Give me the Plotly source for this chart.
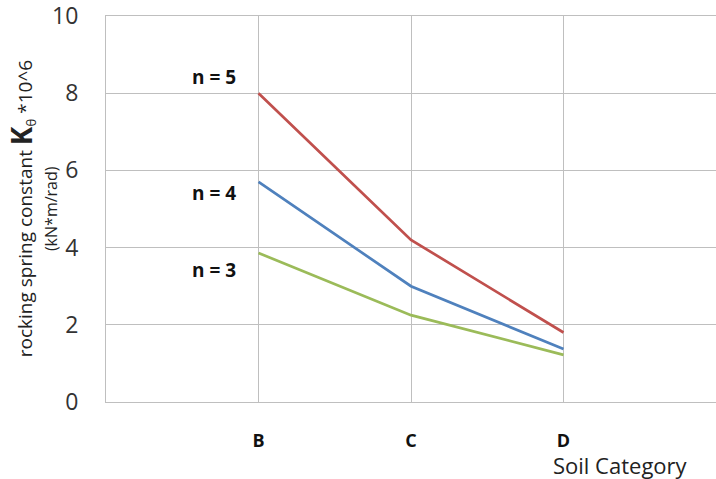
import plotly.graph_objects as go

categories = ["B", "C", "D"]
cat_pos = [1, 2, 3]
n5 = [8.0, 4.2, 1.8]
n4 = [5.7, 3.0, 1.37]
n3 = [3.86, 2.25, 1.22]
series_names = ["n = 5", "n = 4", "n = 3"]
colors = ["#C0504D", "#4F81BD", "#9BBB59"]
y_ticks = [0, 2, 4, 6, 8, 10]
label_shift = [16, -11, -17]

FONT = "Open Sans"
fig = go.Figure()
for name, vals, col in zip(series_names, [n5, n4, n3], colors):
    fig.add_trace(go.Scatter(x=cat_pos, y=vals, mode="lines", name=name,
                             line=dict(color=col, width=2.7)))

for name, vals, ys in zip(series_names, [n5, n4, n3], label_shift):
    fig.add_annotation(x=cat_pos[0], y=vals[0], xref="x", yref="y", text="<b>%s</b>" % name,
                       showarrow=False, xanchor="right", yanchor="middle", xshift=-21, yshift=ys,
                       font=dict(family=FONT, size=19, color="#111"))

fig.update_layout(
    width=716, height=479,
    margin=dict(l=106, r=0, t=16, b=77),
    plot_bgcolor="white", paper_bgcolor="white",
    showlegend=False,
    xaxis=dict(range=[0, 4], tickvals=cat_pos, ticktext=["<b>%s</b>" % c for c in categories],
               showgrid=True, gridcolor="#BFBFBF", gridwidth=1, automargin=False,
               showline=True, linecolor="#BFBFBF", mirror=True, zeroline=False,
               ticks="", ticklabelstandoff=22, ticklabeloverflow="allow",
               tickfont=dict(family=FONT, size=18, color="#111")),
    yaxis=dict(range=[0, 10], tickvals=y_ticks, showgrid=True, gridcolor="#BFBFBF", gridwidth=1,
               showline=True, linecolor="#BFBFBF", mirror=True, zeroline=False, automargin=False,
               ticks="", ticklabelstandoff=22, ticklabeloverflow="allow",
               tickfont=dict(family=FONT, size=23, color="#333")),
)

fig.add_annotation(x=-0.139, y=0.5, xref="paper", yref="paper", xanchor="center", yanchor="middle",
                   text="rocking spring constant <b><span style='font-size:28px'>K</span></b><sub>θ</sub> *10^6",
                   textangle=-90, showarrow=False,
                   font=dict(family=FONT, size=19, color="#222"))
fig.add_annotation(x=-0.09, y=0.5, xref="paper", yref="paper", xanchor="center", yanchor="middle",
                   text="(kN*m/rad)", textangle=-90, showarrow=False,
                   font=dict(family=FONT, size=16, color="#222"))
fig.add_annotation(x=0.843, y=-0.163, xref="paper", yref="paper", xanchor="center", yanchor="middle",
                   text="Soil Category", showarrow=False,
                   font=dict(family=FONT, size=22, color="#222"))

fig.write_html("out.html", config={"displayModeBar": False},
               post_script="document.body.style.margin='0px';document.body.style.overflow='hidden';")
